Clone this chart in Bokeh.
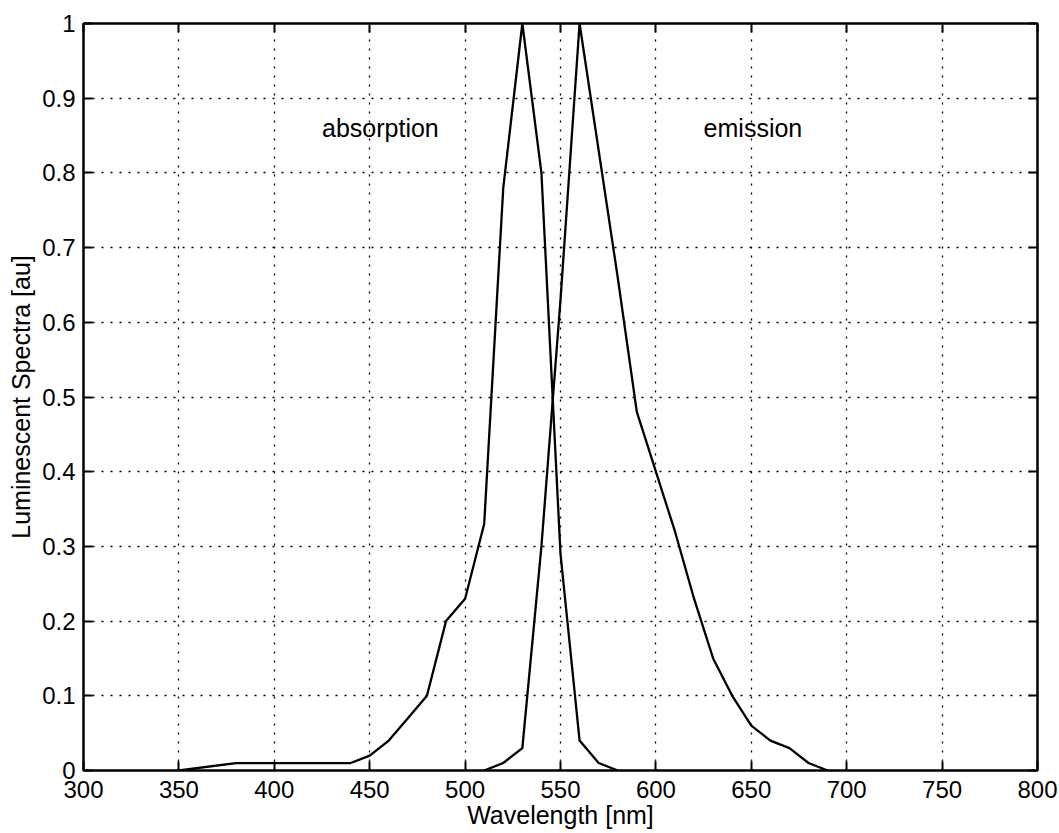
from bokeh.plotting import figure
from bokeh.models import Range1d, FixedTicker, LinearAxis, Label
from bokeh.embed import file_html
from bokeh.resources import INLINE

# ---- data ----
abs_wl = [350, 380, 440, 450, 460, 470, 480, 490, 500, 510, 520, 530, 540, 550, 560, 570, 580]
abs_val = [0.0, 0.01, 0.01, 0.02, 0.04, 0.07, 0.10, 0.20, 0.23, 0.33, 0.78, 1.00, 0.80, 0.29, 0.04, 0.01, 0.0]

em_wl = [510, 520, 530, 540, 550, 560, 570, 580, 590, 600, 610, 620, 630, 640, 650, 660, 670, 680, 690]
em_val = [0.0, 0.01, 0.03, 0.30, 0.63, 1.00, 0.83, 0.66, 0.48, 0.40, 0.32, 0.23, 0.15, 0.10, 0.06, 0.04, 0.03, 0.01, 0.0]

x_ticks = [300, 350, 400, 450, 500, 550, 600, 650, 700, 750, 800]
y_ticks = [0, 0.1, 0.2, 0.3, 0.4, 0.5, 0.6, 0.7, 0.8, 0.9, 1]
y_tick_labels = ["0", "0.1", "0.2", "0.3", "0.4", "0.5", "0.6", "0.7", "0.8", "0.9", "1"]

annotations = [("absorption", 425, 0.86), ("emission", 625, 0.86)]

FONT = "Liberation Sans"

p = figure(width=1059, height=833, output_backend="svg", toolbar_location=None,
           x_range=Range1d(300, 800), y_range=Range1d(0, 1),
           min_border_left=83, min_border_right=22, min_border_top=23, min_border_bottom=63,
           background_fill_color="white", border_fill_color="white")

p.outline_line_color = "black"
p.outline_line_width = 2

def style_axis(ax):
    ax.axis_line_color = "black"
    ax.axis_line_width = 2
    ax.major_tick_line_color = "black"
    ax.major_tick_line_width = 2
    ax.major_tick_in = 9
    ax.major_tick_out = 0
    ax.minor_tick_line_color = None
    ax.major_label_text_font = FONT
    ax.major_label_text_color = "black"
    ax.axis_label_text_font = FONT
    ax.axis_label_text_font_style = "normal"
    ax.axis_label_text_color = "black"

xa = p.xaxis[0]
ya = p.yaxis[0]
xa.ticker = FixedTicker(ticks=x_ticks)
ya.ticker = FixedTicker(ticks=y_ticks)
ya.major_label_overrides = {t: l for t, l in zip(y_ticks, y_tick_labels)}
style_axis(xa)
style_axis(ya)
xa.major_label_text_font_size = "24px"
ya.major_label_text_font_size = "24px"
xa.major_label_standoff = 10
ya.major_label_standoff = 8
xa.axis_label = "Wavelength [nm]"
ya.axis_label = "Luminescent Spectra [au]"
xa.axis_label_text_font_size = "25px"
ya.axis_label_text_font_size = "25px"
xa.axis_label_standoff = 0
ya.axis_label_standoff = 4

# box ticks on top and right (matlab style), no labels
top = LinearAxis(ticker=FixedTicker(ticks=x_ticks),
                 major_label_overrides={t: "" for t in x_ticks})
right = LinearAxis(ticker=FixedTicker(ticks=y_ticks),
                   major_label_overrides={t: "" for t in y_ticks})
for ax in (top, right):
    style_axis(ax)
    ax.major_label_standoff = 0
    ax.major_label_text_font_size = "1px"
p.add_layout(top, "above")
p.add_layout(right, "right")

for g in (p.xgrid[0], p.ygrid[0]):
    g.grid_line_color = "black"
    g.grid_line_dash = "2 7"
    g.grid_line_width = 1.3
p.xgrid[0].ticker = FixedTicker(ticks=x_ticks)
p.ygrid[0].ticker = FixedTicker(ticks=y_ticks)

p.line(abs_wl, abs_val, line_color="black", line_width=2.3)
p.line(em_wl, em_val, line_color="black", line_width=2.3)

for txt, x, y in annotations:
    p.add_layout(Label(x=x, y=y, text=txt, text_font=FONT, text_font_size="25px",
                       text_baseline="middle", text_align="left", text_color="black"))

open("out.html", "w").write(file_html(p, INLINE))
